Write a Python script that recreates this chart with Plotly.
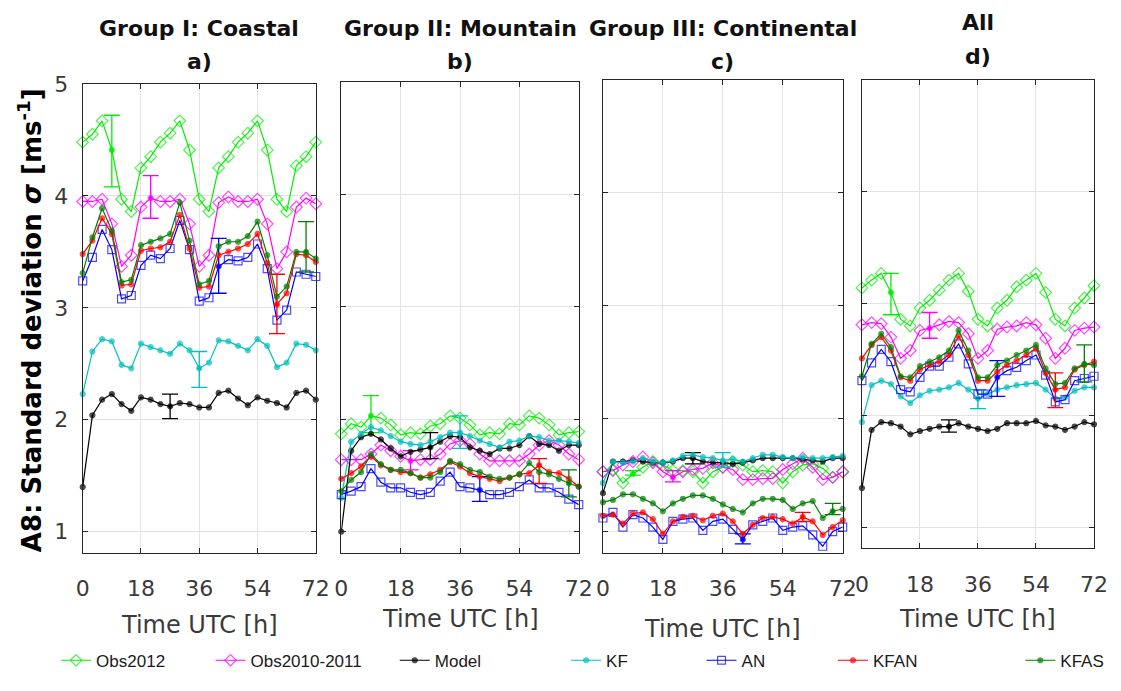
import plotly.graph_objects as go

# ---------------- data ----------------
hours = list(range(0, 73, 3))
x_ticks = [0, 18, 36, 54, 72]
y_ticks = [1, 2, 3, 4, 5]
series_names = ["Obs2012", "Obs2010-2011", "Model", "KF", "AN", "KFAN", "KFAS"]
panel_titles = ["Group I: Coastal", "Group II: Mountain", "Group III: Continental", "All"]
panel_letters = ["a)", "b)", "c)", "d)"]
err_hours = [9, 21, 27, 36, 42, 60, 69]  # hour of the error bar for each series

# Group I: Coastal
coastal_obs2012 = [4.48, 4.55, 4.67, 4.41, 3.97, 3.86, 4.25, 4.35, 4.48, 4.56, 4.67, 4.41, 3.97,
                   3.86, 4.25, 4.35, 4.48, 4.56, 4.67, 4.41, 3.97, 3.86, 4.27, 4.35, 4.48]
coastal_obs1011 = [3.95, 3.95, 3.97, 3.75, 3.37, 3.47, 3.90, 3.98, 3.95, 3.95, 3.97, 3.75, 3.37,
                   3.47, 3.94, 3.99, 3.95, 3.95, 3.97, 3.75, 3.35, 3.50, 3.90, 3.98, 3.93]
coastal_model = [1.40, 2.04, 2.18, 2.23, 2.14, 2.08, 2.20, 2.18, 2.14, 2.12, 2.15, 2.14, 2.11,
                 2.11, 2.24, 2.26, 2.19, 2.13, 2.20, 2.17, 2.15, 2.11, 2.24, 2.26, 2.18]
coastal_kf = [2.23, 2.61, 2.72, 2.70, 2.49, 2.46, 2.68, 2.65, 2.62, 2.59, 2.68, 2.62, 2.46,
              2.51, 2.71, 2.70, 2.66, 2.62, 2.72, 2.66, 2.47, 2.51, 2.68, 2.67, 2.62]
coastal_an = [3.24, 3.45, 3.70, 3.52, 3.08, 3.11, 3.38, 3.47, 3.44, 3.53, 3.78, 3.52, 3.06,
              3.09, 3.37, 3.43, 3.42, 3.45, 3.57, 3.35, 2.89, 2.98, 3.32, 3.30, 3.28]
coastal_kfan = [3.48, 3.60, 3.80, 3.66, 3.20, 3.21, 3.51, 3.53, 3.54, 3.59, 3.83, 3.53, 3.18,
                3.19, 3.47, 3.50, 3.53, 3.57, 3.66, 3.40, 3.03, 3.13, 3.48, 3.47, 3.41]
coastal_kfas = [3.31, 3.63, 3.89, 3.69, 3.23, 3.25, 3.56, 3.59, 3.62, 3.66, 3.94, 3.60, 3.21,
                3.24, 3.55, 3.59, 3.59, 3.64, 3.77, 3.47, 3.10, 3.19, 3.50, 3.50, 3.44]
coastal_err_low = [4.08, 3.80, 2.01, 2.29, 3.13, 2.77, 3.32]
coastal_err_high = [4.72, 4.18, 2.23, 2.61, 3.62, 3.30, 3.77]

# Group II: Mountain
mountain_obs2012 = [1.87, 1.96, 1.93, 2.03, 2.01, 1.95, 1.86, 1.88, 1.87, 1.94, 1.96, 2.03, 2.01,
                    1.95, 1.86, 1.88, 1.87, 1.96, 1.95, 2.03, 2.01, 1.95, 1.86, 1.88, 1.89]
mountain_obs1011 = [1.64, 1.64, 1.64, 1.69, 1.77, 1.72, 1.67, 1.63, 1.64, 1.64, 1.69, 1.78, 1.81,
                    1.78, 1.69, 1.63, 1.63, 1.63, 1.63, 1.69, 1.77, 1.81, 1.77, 1.69, 1.64]
mountain_model = [1.00, 1.72, 1.84, 1.87, 1.82, 1.74, 1.67, 1.71, 1.73, 1.75, 1.80, 1.85, 1.84,
                  1.75, 1.72, 1.69, 1.74, 1.74, 1.77, 1.85, 1.78, 1.77, 1.72, 1.77, 1.77]
mountain_kf = [1.30, 1.80, 1.87, 1.93, 1.90, 1.85, 1.80, 1.78, 1.77, 1.80, 1.84, 1.88, 1.88,
               1.85, 1.81, 1.78, 1.75, 1.80, 1.81, 1.85, 1.84, 1.81, 1.81, 1.80, 1.79]
mountain_an = [1.33, 1.36, 1.40, 1.56, 1.44, 1.39, 1.39, 1.35, 1.33, 1.35, 1.45, 1.53, 1.40,
               1.39, 1.37, 1.33, 1.33, 1.35, 1.40, 1.46, 1.39, 1.39, 1.35, 1.29, 1.24]
mountain_kfan = [1.47, 1.52, 1.58, 1.67, 1.59, 1.55, 1.53, 1.52, 1.48, 1.51, 1.55, 1.62, 1.58,
                 1.52, 1.49, 1.47, 1.45, 1.48, 1.51, 1.52, 1.59, 1.53, 1.52, 1.47, 1.40]
mountain_kfas = [1.36, 1.46, 1.53, 1.69, 1.60, 1.55, 1.55, 1.52, 1.48, 1.48, 1.53, 1.63, 1.60,
                 1.55, 1.53, 1.49, 1.47, 1.48, 1.51, 1.61, 1.53, 1.51, 1.47, 1.43, 1.40]
mountain_err_low = [1.88, 1.55, 1.65, 1.74, 1.27, 1.43, 1.31]
mountain_err_high = [2.21, 1.72, 1.88, 2.03, 1.49, 1.65, 1.55]

# Group III: Continental
continental_obs2012 = [1.53, 1.55, 1.43, 1.51, 1.57, 1.62, 1.59, 1.54, 1.54, 1.53, 1.43, 1.53, 1.57,
                       1.62, 1.59, 1.53, 1.54, 1.53, 1.43, 1.53, 1.59, 1.60, 1.56, 1.48, 1.53]
continental_obs1011 = [1.53, 1.54, 1.59, 1.62, 1.66, 1.61, 1.53, 1.48, 1.53, 1.55, 1.56, 1.61, 1.57,
                       1.55, 1.46, 1.46, 1.47, 1.47, 1.55, 1.60, 1.65, 1.57, 1.46, 1.48, 1.53]
continental_model = [1.34, 1.62, 1.62, 1.63, 1.62, 1.61, 1.61, 1.62, 1.65, 1.65, 1.62, 1.61, 1.61,
                     1.60, 1.61, 1.63, 1.65, 1.65, 1.65, 1.65, 1.64, 1.63, 1.62, 1.65, 1.65]
continental_kf = [1.43, 1.62, 1.61, 1.62, 1.65, 1.62, 1.61, 1.63, 1.67, 1.68, 1.66, 1.65, 1.63,
                  1.64, 1.62, 1.65, 1.68, 1.68, 1.66, 1.65, 1.66, 1.65, 1.65, 1.66, 1.67]
continental_an = [1.12, 1.17, 1.04, 1.15, 1.12, 1.04, 0.93, 1.09, 1.11, 1.12, 1.01, 1.09, 1.11,
                  1.02, 0.93, 1.06, 1.09, 1.12, 1.01, 1.04, 1.05, 0.97, 0.87, 1.00, 1.04]
continental_kfan = [1.14, 1.15, 1.07, 1.16, 1.17, 1.11, 0.98, 1.09, 1.13, 1.14, 1.10, 1.14, 1.16,
                    1.09, 0.98, 1.06, 1.12, 1.13, 1.11, 1.07, 1.13, 1.09, 0.97, 1.04, 1.10]
continental_kfas = [1.26, 1.28, 1.33, 1.33, 1.29, 1.25, 1.18, 1.25, 1.29, 1.32, 1.32, 1.29, 1.24,
                    1.20, 1.17, 1.25, 1.29, 1.29, 1.28, 1.20, 1.25, 1.27, 1.12, 1.18, 1.20]
continental_err_low = [1.50, 1.44, 1.60, 1.57, 0.89, 1.09, 1.15]
continental_err_high = [1.54, 1.54, 1.70, 1.70, 0.98, 1.17, 1.25]

# All
all_obs2012 = [3.14, 3.21, 3.27, 3.10, 2.86, 2.80, 2.96, 3.03, 3.12, 3.21, 3.27, 3.11, 2.86,
               2.80, 2.96, 3.03, 3.15, 3.21, 3.27, 3.10, 2.86, 2.80, 2.96, 3.05, 3.16]
all_obs1011 = [2.81, 2.83, 2.82, 2.70, 2.51, 2.58, 2.76, 2.78, 2.81, 2.84, 2.83, 2.73, 2.51,
               2.58, 2.77, 2.79, 2.80, 2.83, 2.81, 2.69, 2.51, 2.60, 2.76, 2.78, 2.79]
all_model = [1.35, 1.87, 1.94, 1.93, 1.90, 1.83, 1.86, 1.88, 1.90, 1.90, 1.93, 1.90, 1.88,
             1.86, 1.88, 1.93, 1.93, 1.93, 1.95, 1.91, 1.90, 1.87, 1.90, 1.94, 1.92]
all_kf = [1.94, 2.27, 2.31, 2.28, 2.17, 2.11, 2.18, 2.22, 2.23, 2.25, 2.29, 2.23, 2.15,
          2.19, 2.23, 2.25, 2.27, 2.28, 2.29, 2.23, 2.15, 2.16, 2.22, 2.25, 2.25]
all_an = [2.31, 2.47, 2.59, 2.48, 2.23, 2.21, 2.34, 2.44, 2.44, 2.52, 2.64, 2.46, 2.19,
          2.19, 2.34, 2.40, 2.43, 2.49, 2.54, 2.36, 2.12, 2.14, 2.31, 2.33, 2.35]
all_kfan = [2.51, 2.63, 2.70, 2.58, 2.34, 2.31, 2.41, 2.45, 2.48, 2.54, 2.71, 2.54, 2.31,
            2.31, 2.39, 2.45, 2.49, 2.54, 2.60, 2.38, 2.23, 2.25, 2.41, 2.45, 2.48]
all_kfas = [2.35, 2.64, 2.73, 2.61, 2.35, 2.34, 2.44, 2.48, 2.52, 2.58, 2.76, 2.58, 2.34,
            2.34, 2.45, 2.49, 2.54, 2.58, 2.63, 2.42, 2.28, 2.29, 2.42, 2.46, 2.45]
all_err_low = [2.90, 2.69, 1.85, 2.06, 2.17, 2.07, 2.30]
all_err_high = [3.27, 2.92, 1.96, 2.23, 2.49, 2.38, 2.63]

# ---------------- assembly ----------------
panels = [
    [coastal_obs2012, coastal_obs1011, coastal_model, coastal_kf, coastal_an, coastal_kfan, coastal_kfas],
    [mountain_obs2012, mountain_obs1011, mountain_model, mountain_kf, mountain_an, mountain_kfan, mountain_kfas],
    [continental_obs2012, continental_obs1011, continental_model, continental_kf, continental_an,
     continental_kfan, continental_kfas],
    [all_obs2012, all_obs1011, all_model, all_kf, all_an, all_kfan, all_kfas],
]
panel_err_low = [coastal_err_low, mountain_err_low, continental_err_low, all_err_low]
panel_err_high = [coastal_err_high, mountain_err_high, continental_err_high, all_err_high]

colors = ["#00ee00", "#ff00ff", "#000000", "#00bfbf", "#0000ff", "#ff0000", "#008000"]
symbols = ["diamond-open", "diamond-open", "circle", "circle", "square-open", "circle", "circle"]
sizes = [9, 9, 5, 5, 8, 5, 5]

# Geometry in page pixels
W, H = 1121, 691
PLOT_L, PLOT_R, PLOT_T, PLOT_B = 82, 1098, 80, 563
ML, MR, MT, MB = PLOT_L, W - PLOT_R, PLOT_T, H - PLOT_B
PW, PH = W - ML - MR, H - MT - MB


def px_x(p):
    return (p - PLOT_L) / PW


def px_y(p):
    return (PLOT_B - p) / PH


x_dom = [(82.7, 316.7), (342.3, 580.7), (605.0, 845.7), (865.0, 1098.0)]
y_dom = [(84.0, 563.0), (82.0, 563.0), (80.0, 563.0), (80.0, 558.3)]

fig = go.Figure()
font_ticks = dict(family="DejaVu Sans", size=22, color="#3a3a3a")

legend_text_px = [100, 255, 440, 612, 748, 880, 1068]

for pi in range(4):
    xa = "x" if pi == 0 else f"x{pi + 1}"
    ya = "y" if pi == 0 else f"y{pi + 1}"
    for si, name in enumerate(series_names):
        yv = panels[pi][si]
        ei = hours.index(err_hours[si])
        sym = [symbols[si]] * len(hours)
        sz = [sizes[si]] * len(hours)
        sym[ei] = "circle"
        sz[ei] = 5
        lg = "legend" if si == 0 else f"legend{si + 1}"
        fig.add_trace(go.Scatter(
            x=hours, y=yv, mode="lines+markers", name=name,
            xaxis=xa, yaxis=ya, cliponaxis=False,
            line=dict(color=colors[si], width=1.2),
            marker=dict(symbol=sym, size=sz, color=colors[si], line=dict(color=colors[si], width=1.2)),
            showlegend=(pi == 0), legend=lg,
        ))
        yc = yv[ei]
        fig.add_trace(go.Scatter(
            x=[err_hours[si]], y=[yc], mode="markers", xaxis=xa, yaxis=ya, cliponaxis=False,
            marker=dict(symbol="circle", size=4, color=colors[si]),
            error_y=dict(type="data", symmetric=False,
                         array=[panel_err_high[pi][si] - yc],
                         arrayminus=[yc - panel_err_low[pi][si]],
                         color=colors[si], thickness=1.3, width=8),
            showlegend=False,
        ))

layout = dict(
    width=W, height=H, margin=dict(l=ML, r=MR, t=MT, b=MB),
    plot_bgcolor="white", paper_bgcolor="white",
    font=dict(family="DejaVu Sans", color="#262626"),
)
for pi in range(4):
    sx = "" if pi == 0 else str(pi + 1)
    layout[f"xaxis{sx}"] = dict(
        domain=[max(0, px_x(x_dom[pi][0])), min(1, px_x(x_dom[pi][1]))],
        anchor=f"y{sx}", range=[0, 72], tickvals=x_ticks, ticktext=[str(t) for t in x_ticks],
        showgrid=True, gridcolor="#e3e3e3", gridwidth=1, zeroline=False,
        showline=True, mirror="ticks", linecolor="#262626", linewidth=1,
        ticks="inside", ticklen=5, tickcolor="#262626",
        tickfont=font_ticks, ticklabelstandoff=16,
    )
    layout[f"yaxis{sx}"] = dict(
        domain=[max(0, px_y(y_dom[pi][1])), min(1, px_y(y_dom[pi][0]))],
        anchor=f"x{sx}", range=[0.81, 5.0], tickvals=y_ticks,
        showgrid=True, gridcolor="#e3e3e3", gridwidth=1, zeroline=False,
        showline=True, mirror="ticks", linecolor="#262626", linewidth=1,
        ticks="inside", ticklen=5, tickcolor="#262626",
        showticklabels=(pi == 0), tickfont=font_ticks, ticklabelstandoff=9,
    )

# legends, one per series, placed along the bottom
for si in range(len(series_names)):
    key = "legend" if si == 0 else f"legend{si + 1}"
    layout[key] = dict(
        x=px_x(legend_text_px[si] - 44), y=px_y(673), xanchor="left", yanchor="middle",
        orientation="h", bgcolor="rgba(0,0,0,0)", borderwidth=0,
        font=dict(family="Liberation Sans, Arial", size=17, color="#1a1a1a"),
        itemwidth=30,
    )

annotations = []
title_y = [(27, 61), (27, 61), (27, 61), (21, 56)]
xtitle_y = [637, 630, 641, 630]
for pi in range(4):
    cx = px_x((x_dom[pi][0] + x_dom[pi][1]) / 2)
    annotations.append(dict(x=cx, y=px_y(title_y[pi][0]), xref="paper", yref="paper",
                            text=f"<b>{panel_titles[pi]}</b>", showarrow=False,
                            font=dict(family="DejaVu Sans", size=22, color="#111111"),
                            xanchor="center", yanchor="middle"))
    annotations.append(dict(x=cx, y=px_y(title_y[pi][1]), xref="paper", yref="paper",
                            text=f"<b>{panel_letters[pi]}</b>", showarrow=False,
                            font=dict(family="DejaVu Sans", size=22, color="#111111"),
                            xanchor="center", yanchor="middle"))
    annotations.append(dict(x=cx, y=px_y(xtitle_y[pi]), xref="paper", yref="paper",
                            text="Time UTC [h]", showarrow=False,
                            font=dict(family="DejaVu Sans", size=24, color="#3a3a3a"),
                            xanchor="center", yanchor="middle"))
annotations.append(dict(x=px_x(30), y=px_y(325), xref="paper", yref="paper",
                        text="<b>A8: Standard deviation <i>σ</i> [ms<sup>-1</sup>]</b>",
                        showarrow=False, textangle=-90,
                        font=dict(family="DejaVu Sans", size=26, color="#000000"),
                        xanchor="center", yanchor="middle"))
layout["annotations"] = annotations

fig.update_layout(**layout)
fig.write_html("out.html", config={"displayModeBar": False},
               post_script="document.body.style.margin='0px';")
